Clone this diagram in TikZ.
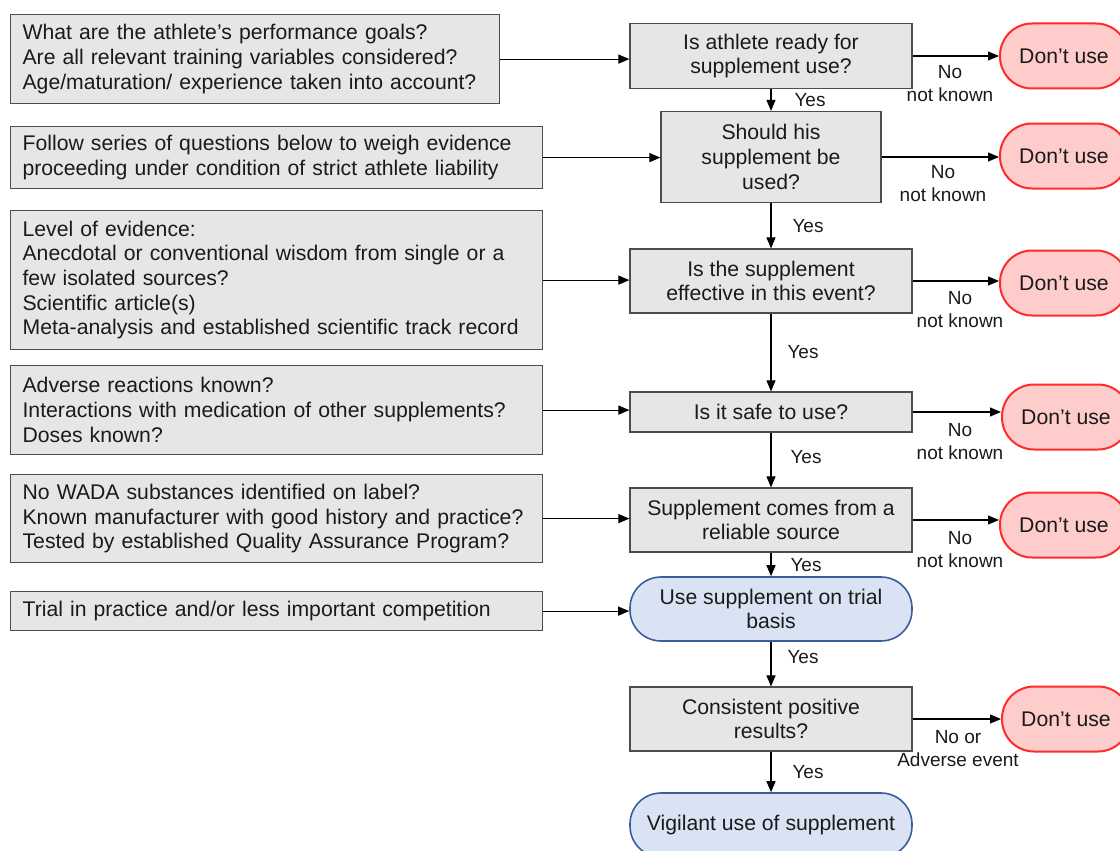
\documentclass[tikz,border=0pt]{standalone}
\usepackage{fontspec}
\setmainfont{Liberation Sans}
\usepackage{xcolor}
\usetikzlibrary{arrows.meta,positioning,calc}
\hyphenpenalty=10000
\definecolor{boxfill}{HTML}{E6E6E6}
\definecolor{boxline}{HTML}{4D4D4D}
\definecolor{trialfill}{HTML}{DAE3F3}
\definecolor{trialline}{HTML}{3A5E9C}
\definecolor{stopfill}{HTML}{FFCCCC}
\definecolor{stopline}{HTML}{FF2A2A}
\definecolor{ink}{HTML}{1A1A1A}
\tikzset{
  box/.style={draw=boxline,fill=boxfill,line width=1.2pt,inner sep=0pt,text=ink,font=\fontsize{21.2}{24.7}\selectfont},
  notebox/.style={box,anchor=north west,align=left,inner xsep=12pt},
  decision/.style={box,align=center,minimum width=282pt,minimum height=64pt},
  trial/.style={decision,draw=trialline,fill=trialfill,line width=1.6pt,rounded corners=31pt},
  stop/.style={box,draw=stopline,fill=stopfill,line width=2pt,rounded corners=32pt,minimum width=128pt,minimum height=65pt},
  lbl/.style={font=\fontsize{19}{23}\selectfont,text=ink,align=center,inner sep=0pt},
  arrow/.style={-{Triangle[length=11pt,width=9pt]},line width=1.1pt,color=black},
}
\begin{document}
\begin{tikzpicture}[x=1pt,y=-1pt]
    \useasboundingbox (0,0) rectangle (1120,851);
    % questions to weigh
    \node[notebox,text width=465pt,minimum height=89pt] (q1) at (10,14) {What are the athlete’s performance goals?\\Are all relevant training variables considered?\\Age/maturation/ experience taken into account?};
    \node[notebox,text width=508pt,minimum height=62pt] (q2) at (10,126) {Follow series of questions below to weigh evidence\\proceeding under condition of strict athlete liability};
    \node[notebox,text width=508pt,minimum height=139pt] (q3) at (10,210) {Level of evidence:\\Anecdotal or conventional wisdom from single or a\\few isolated sources?\\Scientific article(s)\\Meta-analysis and established scientific track record};
    \node[notebox,text width=508pt,minimum height=89pt] (q4) at (10,365) {Adverse reactions known?\\Interactions with medication of other supplements?\\Doses known?};
    \node[notebox,text width=508pt,minimum height=88pt] (q5) at (10,474) {No WADA substances identified on label?\\Known manufacturer with good history and practice?\\Tested by established Quality Assurance Program?};
    \node[notebox,text width=508pt,minimum height=39pt] (q6) at (10,591) {Trial in practice and/or less important competition};
    % decisions
    \node[decision,minimum height=65pt] (c1) at (771,56) {Is athlete ready for\\supplement use?};
    \node[decision,minimum width=220pt,minimum height=91pt] (c2) at (771,157) {Should his\\supplement be\\used?};
    \node[decision] (c3) at (771,281) {Is the supplement\\effective in this event?};
    \node[decision,minimum height=40pt] (c4) at (771,412) {Is it safe to use?};
    \node[decision] (c5) at (771,520) {Supplement comes from a\\reliable source};
    \node[trial] (c6) at (771,609) {Use supplement on trial\\basis};
    \node[decision] (c7) at (771,719) {Consistent positive\\results?};
    \node[trial] (c8) at (771,825) {Vigilant use of supplement};
    % stops
    \node[stop] (d1) at (1064,56) {Don’t use};
    \node[stop] (d2) at (1064,156) {Don’t use};
    \node[stop] (d3) at (1064,283) {Don’t use};
    \node[stop] (d4) at (1066,417) {Don’t use};
    \node[stop] (d5) at (1064,525) {Don’t use};
    \node[stop] (d7) at (1066,719) {Don’t use};
    \foreach \q/\c in {q1/c1,q2/c2,q3/c3,q4/c4,q5/c5,q6/c6} \draw[arrow] (\q.east) -- (\q.east -| \c.west);
    \foreach \a/\b in {c1/c2,c2/c3,c3/c4,c4/c5,c5/c6,c6/c7,c7/c8} \draw[arrow] (\a) -- (\b);
    \foreach \c/\d in {c1/d1,c2/d2,c3/d3,c4/d4,c5/d5,c7/d7} \draw[arrow] (\c.east) -- (\c.east -| \d.west);
    % labels
    \foreach \n/\x/\y in {1/810/100,2/808/226,3/803/352,4/806/457,5/806/565,6/803/657,7/808/772} \node[lbl] (y\n) at (\x,\y) {Yes};
    \node[lbl] (n1) at (950,83.5) {No\\not known};
    \node[lbl] (n2) at (943,183.5) {No\\not known};
    \node[lbl] (n3) at (960,309.5) {No\\not known};
    \node[lbl] (n4) at (960,441.5) {No\\not known};
    \node[lbl] (n5) at (960,549.5) {No\\not known};
    \node[lbl] (n7) at (958,748.5) {No or\\Adverse event};
\end{tikzpicture}
\end{document}
